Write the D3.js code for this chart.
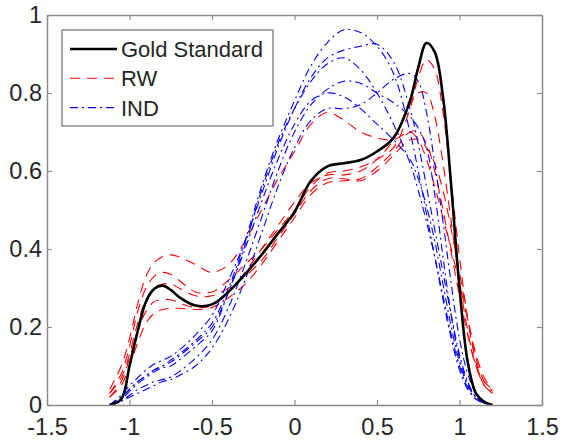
<!DOCTYPE html>
<html>
<head>
<meta charset="utf-8">
<script src="https://cdn.jsdelivr.net/npm/d3@7"></script>
<style>
  body { margin: 0; background: #fff; }
  svg text { font-family: "Liberation Sans", Arial, sans-serif; fill: #262626; }
</style>
</head>
<body>
<div id="chart"></div>
<script>
// common x grid for all curves
var xs = [-1.12, -1.05, -1.0, -0.95, -0.9, -0.85, -0.8, -0.75, -0.7, -0.6, -0.5, -0.4, -0.3, -0.2, -0.1, 0,
          0.1, 0.2, 0.3, 0.4, 0.5, 0.6, 0.7, 0.75, 0.8, 0.85, 0.9, 0.95, 1.0, 1.05, 1.1, 1.15, 1.2];

var goldStandard = [0, 0.015, 0.10, 0.19, 0.265, 0.298, 0.306, 0.295, 0.277, 0.255, 0.258, 0.29, 0.335, 0.385, 0.44, 0.495,
                    0.575, 0.612, 0.62, 0.628, 0.65, 0.685, 0.78, 0.865, 0.928, 0.905, 0.79, 0.56, 0.30, 0.11, 0.03, 0.008, 0];

var rwSeries = [
  [0.04, 0.10, 0.17, 0.26, 0.33, 0.365, 0.38, 0.385, 0.38, 0.36, 0.34, 0.36, 0.42, 0.50, 0.58, 0.65,
   0.72, 0.75, 0.73, 0.70, 0.685, 0.68, 0.70, 0.68, 0.63, 0.56, 0.48, 0.40, 0.31, 0.22, 0.13, 0.07, 0.04],
  [0.03, 0.08, 0.15, 0.24, 0.30, 0.33, 0.34, 0.335, 0.32, 0.29, 0.29, 0.32, 0.36, 0.40, 0.45, 0.50,
   0.56, 0.595, 0.60, 0.61, 0.63, 0.66, 0.76, 0.84, 0.885, 0.86, 0.75, 0.57, 0.38, 0.22, 0.11, 0.05, 0.03],
  [0.02, 0.06, 0.12, 0.19, 0.24, 0.265, 0.27, 0.27, 0.262, 0.25, 0.255, 0.29, 0.34, 0.40, 0.46, 0.52,
   0.57, 0.59, 0.59, 0.60, 0.63, 0.68, 0.77, 0.80, 0.80, 0.74, 0.62, 0.47, 0.32, 0.19, 0.10, 0.05, 0.03],
  [0.02, 0.05, 0.10, 0.16, 0.21, 0.235, 0.245, 0.248, 0.248, 0.245, 0.25, 0.275, 0.31, 0.36, 0.42, 0.48,
   0.54, 0.57, 0.575, 0.58, 0.61, 0.65, 0.70, 0.70, 0.67, 0.60, 0.50, 0.39, 0.28, 0.18, 0.10, 0.06, 0.04],
  [0.03, 0.07, 0.13, 0.21, 0.27, 0.30, 0.31, 0.31, 0.30, 0.28, 0.28, 0.30, 0.33, 0.37, 0.43, 0.49,
   0.55, 0.58, 0.58, 0.575, 0.60, 0.64, 0.68, 0.68, 0.66, 0.62, 0.55, 0.45, 0.34, 0.22, 0.12, 0.06, 0.035]
];

var indSeries = [
  [0, 0.02, 0.04, 0.06, 0.075, 0.09, 0.10, 0.115, 0.13, 0.165, 0.21, 0.30, 0.42, 0.56, 0.68, 0.78,
   0.87, 0.93, 0.962, 0.955, 0.92, 0.85, 0.70, 0.60, 0.49, 0.38, 0.27, 0.17, 0.09, 0.04, 0.015, 0.005, 0],
  [0, 0.025, 0.05, 0.07, 0.09, 0.105, 0.115, 0.125, 0.14, 0.18, 0.23, 0.32, 0.42, 0.54, 0.66, 0.76,
   0.84, 0.89, 0.91, 0.92, 0.925, 0.88, 0.76, 0.67, 0.56, 0.45, 0.34, 0.23, 0.13, 0.06, 0.02, 0.005, 0],
  [0, 0.015, 0.035, 0.055, 0.07, 0.085, 0.095, 0.10, 0.115, 0.15, 0.19, 0.29, 0.41, 0.55, 0.67, 0.76,
   0.83, 0.875, 0.89, 0.86, 0.80, 0.72, 0.62, 0.55, 0.47, 0.38, 0.28, 0.18, 0.10, 0.045, 0.015, 0.005, 0],
  [0, 0.01, 0.025, 0.04, 0.05, 0.06, 0.065, 0.072, 0.085, 0.12, 0.167, 0.25, 0.36, 0.48, 0.60, 0.70,
   0.77, 0.81, 0.83, 0.825, 0.80, 0.775, 0.74, 0.71, 0.66, 0.54, 0.38, 0.23, 0.12, 0.055, 0.02, 0.005, 0],
  [0, 0.01, 0.02, 0.03, 0.04, 0.05, 0.06, 0.065, 0.075, 0.10, 0.146, 0.22, 0.32, 0.44, 0.56, 0.66,
   0.73, 0.76, 0.76, 0.77, 0.80, 0.835, 0.85, 0.83, 0.75, 0.62, 0.47, 0.31, 0.17, 0.08, 0.03, 0.01, 0],
  [0, 0.02, 0.04, 0.06, 0.075, 0.09, 0.10, 0.11, 0.125, 0.16, 0.20, 0.29, 0.40, 0.52, 0.63, 0.72,
   0.78, 0.80, 0.79, 0.76, 0.72, 0.68, 0.63, 0.58, 0.51, 0.42, 0.31, 0.20, 0.11, 0.05, 0.02, 0.005, 0]
];

var xTicks = [-1.5, -1, -0.5, 0, 0.5, 1, 1.5];
var yTicks = [0, 0.2, 0.4, 0.6, 0.8, 1];
var legendLabels = ["Gold Standard", "RW", "IND"];

const width = 561;
const height = 440;
const margin = {left: 47, right: 19, top: 15, bottom: 35};

const svg = d3.select("#chart").append("svg")
    .attr("width", width)
    .attr("height", height);

const x = d3.scaleLinear().domain([-1.5, 1.5]).range([margin.left, width - margin.right]);
const y = d3.scaleLinear().domain([0, 1]).range([height - margin.bottom, margin.top]);

// clip to the axes box
svg.append("clipPath").attr("id", "clip")
  .append("rect")
    .attr("x", x.range()[0]).attr("y", y.range()[1])
    .attr("width", x.range()[1] - x.range()[0])
    .attr("height", y.range()[0] - y.range()[1]);

const line = d3.line()
    .x((d, i) => x(xs[i]))
    .y(d => y(Math.max(0, d)))
    .curve(d3.curveCatmullRom.alpha(0.5));

const plot = svg.append("g").attr("clip-path", "url(#clip)");

const rwDash = "10,7";
const indDash = "8,4,2,4";

// RW curves
plot.append("g").selectAll("path")
  .data(rwSeries)
  .join("path")
    .attr("d", line)
    .attr("fill", "none")
    .attr("stroke", "#ff0000")
    .attr("stroke-width", 1.1)
    .attr("stroke-dasharray", rwDash);

// IND curves
plot.append("g").selectAll("path")
  .data(indSeries)
  .join("path")
    .attr("d", line)
    .attr("fill", "none")
    .attr("stroke", "#0000ff")
    .attr("stroke-width", 1.1)
    .attr("stroke-dasharray", indDash);

// gold standard on top
plot.append("path")
    .datum(goldStandard)
    .attr("d", line)
    .attr("fill", "none")
    .attr("stroke", "#000")
    .attr("stroke-width", 2.6);

// axes (box with inward ticks on all sides)
const tickLen = 5;
const axisColor = "#8c8c8c";
const fmt = d => String(d);   // plain hyphen minus, like the original

function styleAxis(g) {
  g.select(".domain").attr("stroke", axisColor).attr("stroke-width", 1.5);
  g.selectAll(".tick line").attr("stroke", axisColor).attr("stroke-width", 1.2);
  g.selectAll(".tick text").attr("font-size", 23.5).attr("fill", "#262626")
    .attr("font-family", "'Liberation Sans', Arial, sans-serif");
}

svg.append("g")
    .attr("transform", `translate(0,${y(0)})`)
    .call(d3.axisBottom(x).tickValues(xTicks).tickFormat(fmt).tickSizeInner(-tickLen).tickSizeOuter(0).tickPadding(13))
    .call(styleAxis);

svg.append("g")
    .attr("transform", `translate(0,${y(1)})`)
    .call(d3.axisTop(x).tickValues(xTicks).tickFormat("").tickSizeInner(-tickLen).tickSizeOuter(0))
    .call(styleAxis);

svg.append("g")
    .attr("transform", `translate(${x(-1.5)},0)`)
    .call(d3.axisLeft(y).tickValues(yTicks).tickFormat(fmt).tickSizeInner(-tickLen).tickSizeOuter(0).tickPadding(5))
    .call(styleAxis);

svg.append("g")
    .attr("transform", `translate(${x(1.5)},0)`)
    .call(d3.axisRight(y).tickValues(yTicks).tickFormat("").tickSizeInner(-tickLen).tickSizeOuter(0))
    .call(styleAxis);

// legend
const legend = svg.append("g").attr("transform", "translate(62,30)");
legend.append("rect")
    .attr("width", 211).attr("height", 96)
    .attr("fill", "#fff")
    .attr("stroke", axisColor)
    .attr("stroke-width", 1.5);

const legendStyles = [
  {stroke: "#000", width: 2.6, dash: null},
  {stroke: "#ff0000", width: 1.1, dash: rwDash},
  {stroke: "#0000ff", width: 1.1, dash: indDash}
];

legendLabels.forEach((label, i) => {
  const row = legend.append("g").attr("transform", `translate(0,${19 + i * 29.3})`);
  row.append("line")
      .attr("x1", 8).attr("x2", 55)
      .attr("stroke", legendStyles[i].stroke)
      .attr("stroke-width", legendStyles[i].width)
      .attr("stroke-dasharray", legendStyles[i].dash);
  row.append("text")
      .attr("x", 59).attr("y", 0)
      .attr("dy", "0.36em")
      .attr("font-size", 22)
      .text(label);
});
</script>
</body>
</html>
